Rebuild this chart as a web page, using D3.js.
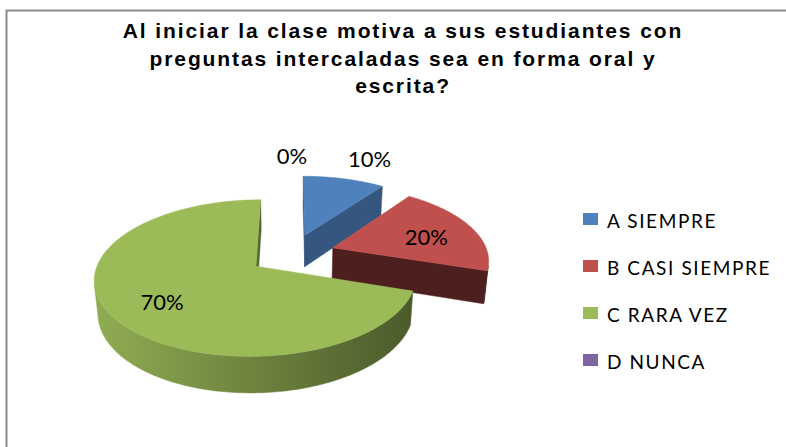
<!DOCTYPE html>
<html lang="es">
<head>
<meta charset="UTF-8">
<title>Al iniciar la clase motiva a sus estudiantes</title>
<script src="https://d3js.org/d3.v7.min.js"></script>
<style>
  body { margin: 0; background: #fff; overflow: hidden; }
  svg { display: block; }
  .title { font-family: "Liberation Sans", Arial, sans-serif; font-weight: bold; font-size: 21px; fill: #000; letter-spacing: 1.9px; }
  .lbl { font-family: Lato, "Open Sans", sans-serif; font-size: 22px; fill: #000; }
  .leg { font-family: Lato, "Open Sans", sans-serif; font-size: 19px; fill: #000; letter-spacing: 1.6px; }
</style>
</head>
<body>
<svg id="chart" width="786" height="447"></svg>
<script>
// datos
const categories = ['A SIEMPRE', 'B CASI SIEMPRE', 'C RARA VEZ', 'D NUNCA'];
const values = [10, 20, 70, 0];
const pctLabels = ['10%', '20%', '70%', '0%'];
const titleLines = [
  'Al iniciar la clase motiva a sus estudiantes con',
  'preguntas intercaladas sea en forma oral y',
  'escrita?'
];

const colors = ['#4f81bd', '#c0504d', '#9bbb59', '#8064a2'];
const sideColors = ['#34567f', '#4e1f1f', '#55692e', '#4b3a60'];

const width = 786, height = 447;
const svg = d3.select('#chart');

// marco del gráfico
svg.append('rect')
  .attr('x', 6.5).attr('y', 10.5)
  .attr('width', 794).attr('height', 460)
  .attr('fill', '#fff')
  .attr('stroke', '#8c8c8c')
  .attr('stroke-width', 2);

// título
svg.append('text')
  .attr('class', 'title')
  .attr('text-anchor', 'middle')
  .selectAll('tspan')
  .data(titleLines)
  .enter().append('tspan')
  .attr('x', 403)
  .attr('y', (d, i) => 38 + i * 27.5)
  .text(d => d);

// proyección 3D con perspectiva
const cam = { cx: 292, cy: 254, F: 931, D: 6, tilt: 28 * Math.PI / 180 };
const sinE = Math.sin(cam.tilt), cosE = Math.cos(cam.tilt);
const camPos = [0, -cam.D * cosE, cam.D * sinE];
function project(X, Y, Z) {
  const up = Y * sinE + Z * cosE;
  const depth = cam.D + Y * cosE - Z * sinE;
  return [cam.cx + cam.F * X / depth, cam.cy - cam.F * up / depth];
}

const explode = 0.28;   // separación de las porciones
const thick = 0.24;     // grosor del pastel
const step = Math.PI / 180;

const pie = d3.pie().sort(null).value(d => d)(values);
const line = d3.line().curve(d3.curveLinearClosed);

const defs = svg.append('defs');
colors.forEach((c, i) => {
  const g = defs.append('linearGradient')
    .attr('id', 'wall' + i)
    .attr('gradientUnits', 'userSpaceOnUse')
    .attr('x1', cam.cx - 200).attr('x2', cam.cx + 200)
    .attr('y1', 0).attr('y2', 0);
  g.append('stop').attr('offset', 0).attr('stop-color', d3.color(c).darker(0.2));
  g.append('stop').attr('offset', 0.45).attr('stop-color', d3.color(c).darker(1.1));
  g.append('stop').attr('offset', 1).attr('stop-color', d3.color(c).darker(2.7));
});

function arcPts(a0, a1) {
  const n = Math.max(2, Math.ceil(Math.abs(a1 - a0) / step));
  return d3.range(n + 1).map(k => a0 + (a1 - a0) * k / n);
}

const slices = pie.map((p, i) => {
  const mid = (p.startAngle + p.endAngle) / 2;
  return { i, p, mid, ox: explode * Math.sin(mid), oy: explode * Math.cos(mid) };
});

const pieG = svg.append('g');

slices
  .filter(s => s.p.endAngle > s.p.startAngle)
  .sort((a, b) => b.oy - a.oy)
  .forEach(s => {
    const { ox, oy, i } = s;
    const a0 = s.p.startAngle, a1 = s.p.endAngle;
    const rim = (a, z) => project(ox + Math.sin(a), oy + Math.cos(a), z);
    const apex = z => project(ox, oy, z);
    const faces = [];

    // caras radiales
    [[a0, [-Math.cos(a0), Math.sin(a0)]], [a1, [Math.cos(a1), -Math.sin(a1)]]].forEach(([a, n]) => {
      const vx = camPos[0] - ox, vy = camPos[1] - oy;
      if (vx * n[0] + vy * n[1] > 0) {
        faces.push({
          pts: [apex(0), rim(a, 0), rim(a, -thick), apex(-thick)],
          fill: sideColors[i],
          depth: oy + Math.cos(a) / 2
        });
      }
    });

    // pared exterior visible
    const vis = arcPts(a0, a1).map(a => {
      const px = ox + Math.sin(a), py = oy + Math.cos(a);
      return { a, v: (camPos[0] - px) * Math.sin(a) + (camPos[1] - py) * Math.cos(a) > 0 };
    });
    let run = [];
    vis.concat([{ a: null, v: false }]).forEach(d => {
      if (d.v) run.push(d.a);
      else if (run.length > 1) {
        const top = run.map(a => rim(a, 0));
        const bot = run.slice().reverse().map(a => rim(a, -thick));
        faces.push({ pts: top.concat(bot), fill: `url(#wall${i})`, depth: -1 });
        run = [];
      } else run = [];
    });

    faces.sort((a, b) => b.depth - a.depth).forEach(f => {
      pieG.append('path').attr('d', line(f.pts)).attr('fill', f.fill)
        .attr('stroke', f.fill).attr('stroke-width', 0.5);
    });

    // cara superior
    const topPts = [apex(0)].concat(arcPts(a0, a1).map(a => rim(a, 0)));
    pieG.append('path').attr('d', line(topPts)).attr('fill', colors[i])
      .attr('stroke', colors[i]).attr('stroke-width', 0.5);
  });

// etiquetas de porcentaje
slices.forEach(s => {
  const inside = values[s.i] >= 15;
  const r = inside ? 0.67 : 1.4;
  const pt = project(s.ox + r * Math.sin(s.mid), s.oy + r * Math.cos(s.mid), 0);
  const nudge = inside ? 0 : 40 * Math.sin(s.mid);
  svg.append('text')
    .attr('class', 'lbl')
    .attr('text-anchor', 'middle')
    .attr('x', pt[0] + nudge)
    .attr('y', pt[1] + (inside ? 4 : 0))
    .attr('dy', '0.35em')
    .text(pctLabels[s.i]);
});

// leyenda
const leg = svg.append('g').attr('transform', 'translate(583,213)');
const row = leg.selectAll('g').data(categories).enter().append('g')
  .attr('transform', (d, i) => `translate(0,${i * 47})`);
row.append('rect').attr('width', 15).attr('height', 12).attr('fill', (d, i) => colors[i]);
row.append('text').attr('class', 'leg').attr('x', 24).attr('y', 15).text(d => d);
</script>
</body>
</html>
